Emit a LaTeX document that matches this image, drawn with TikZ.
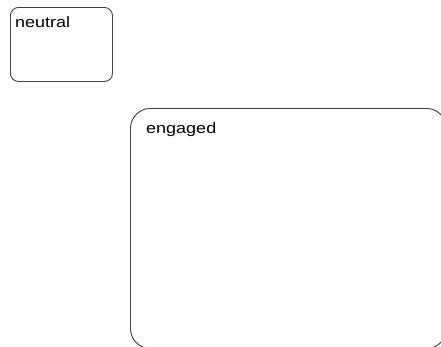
\documentclass[tikz,border=0pt]{standalone}
\usepackage{fontspec}
\setmainfont[FakeStretch=1.2]{Liberation Sans}
\begin{document}
\begin{tikzpicture}[x=1pt,y=-1pt,
  statebox/.style={draw=black!75, line width=0.9pt, rectangle, inner sep=0pt},
  lbl/.style={inner sep=0pt, font=\fontsize{15}{18}\selectfont, text=black}]
\useasboundingbox[fill=white] (0,0) rectangle (441,346);
\clip (0,0) rectangle (441,346);
\node[statebox, rounded corners=8pt, minimum width=102pt, minimum height=74pt, anchor=north west] (neutral) at (10,7) {};
\node[lbl, anchor=base west] (neutralT) at ([xshift=5pt,yshift=-20pt]neutral.north west) {neutral};
\node[statebox, rounded corners=20pt, minimum width=316pt, minimum height=240pt, anchor=north west] (engaged) at (130,108) {};
\node[lbl, anchor=base west] (engagedT) at ([xshift=16pt,yshift=-25pt]engaged.north west) {engaged};
\end{tikzpicture}
\end{document}
